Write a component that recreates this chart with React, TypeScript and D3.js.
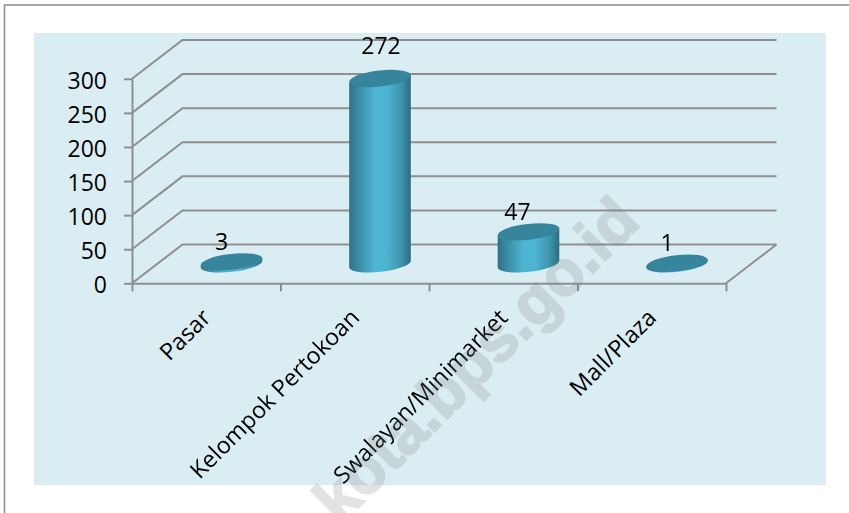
import React, { useEffect, useRef } from 'react';
import * as d3 from 'd3';

const categories = ['Pasar', 'Kelompok Pertokoan', 'Swalayan/Minimarket', 'Mall/Plaza'];
const values = [3, 272, 47, 1];
const yTicks = [0, 50, 100, 150, 200, 250, 300];
// hand-placed data labels in the original chart, offset from the top of each cylinder
const labelDx = [-10, 1, -11, -10];
const labelDy = [-20, -33, -20, -20];

export default function App() {
    const svgRef = useRef<SVGSVGElement>(null);

    useEffect(() => {
        const svg = d3.select(svgRef.current);
        svg.selectAll('*').remove();

        const left = 132, right = 726, bottom = 283.3, top = 78.8;
        const depthX = 50.5, depthY = -38.8;
        const gridColor = '#8f8f8f';
        const font = '"Open Sans", sans-serif';

        const x = d3.scaleBand().domain(categories).range([left, right]);
        const y = d3.scaleLinear().domain([0, 300]).range([bottom, top]);

        // ---- Page frame and panel
        svg.append('path')
            .attr('d', 'M4.5,513V5H849')
            .attr('fill', 'none')
            .attr('stroke', '#8c8c8c')
            .attr('stroke-width', 1.5);
        svg.append('rect')
            .attr('x', 34).attr('y', 33)
            .attr('width', 792).attr('height', 452)
            .attr('fill', '#daedf3');

        // ---- Cylinder gradient
        const grad = svg.append('defs').append('linearGradient')
            .attr('id', 'cyl').attr('x1', 0).attr('x2', 1).attr('y1', 0).attr('y2', 0);
        [[0, '#2f7288'], [0.15, '#3a8ba4'], [0.42, '#4db5d2'], [0.6, '#4db5d2'], [0.85, '#3e93ad'], [1, '#2d6c80']]
            .forEach(([o, c]) => grad.append('stop').attr('offset', o as number).attr('stop-color', c as string));

        // ---- Walls and gridlines
        const wall = d3.line<[number, number]>();
        yTicks.forEach(t => {
            const py = y(t);
            svg.append('path')
                .attr('d', wall([[left, py], [left + depthX, py + depthY], [left + depthX + (right - left), py + depthY]]))
                .attr('fill', 'none')
                .attr('stroke', gridColor)
                .attr('stroke-width', 2);
        });
        svg.append('path')
            .attr('d', wall([[right, bottom], [right + depthX, bottom + depthY]]))
            .attr('fill', 'none')
            .attr('stroke', gridColor)
            .attr('stroke-width', 2);

        // ---- Axes
        const yAxis = svg.append('g')
            .attr('transform', `translate(${left},0)`)
            .call(d3.axisLeft(y).tickValues(yTicks).tickSize(8).tickPadding(17).tickSizeOuter(0));
        yAxis.select('.domain').attr('stroke', gridColor).attr('stroke-width', 2);
        yAxis.selectAll('line').attr('stroke', gridColor).attr('stroke-width', 2);
        yAxis.selectAll('text')
            .attr('fill', '#000')
            .attr('dy', '0.4em')
            .style('font-family', font)
            .style('font-size', '23px');

        const xEdges = d3.scaleLinear().domain([0, categories.length]).range([left, right]);
        const xAxis = svg.append('g')
            .attr('transform', `translate(0,${bottom})`)
            .call(d3.axisBottom(xEdges).tickValues(d3.range(categories.length + 1)).tickFormat(() => '').tickSize(8).tickSizeOuter(0));
        xAxis.select('.domain').attr('stroke', gridColor).attr('stroke-width', 2);
        xAxis.selectAll('line').attr('stroke', gridColor).attr('stroke-width', 2);

        svg.selectAll('.cat-label')
            .data(categories)
            .enter()
            .append('text')
            .attr('class', 'cat-label')
            .attr('transform', d => `translate(${x(d)! + x.bandwidth() / 2 + 6},319) rotate(-45)`)
            .attr('text-anchor', 'end')
            .style('font-family', font)
            .style('font-size', '23.3px')
            .text(d => d);

        // ---- Cylinders
        const rx = 31, ry = 8, tilt = -6.5;
        const rad = (tilt * Math.PI) / 180;
        const ex = rx * Math.cos(rad), ey = rx * Math.sin(rad);
        const floorDrop = y(0) + depthY / 2;
        const cy = d3.scaleLinear().domain([0, 300]).range([floorDrop, floorDrop - (bottom - top)]);
        const cx = (d: string) => x(d)! + x.bandwidth() / 2 + depthX / 2;

        categories.forEach((c, i) => {
            const mx = cx(c), yBase = cy(0), yTop = cy(values[i]);
            svg.append('path')
                .attr('d', `M${mx - ex},${yTop - ey}L${mx - ex},${yBase - ey}`
                    + `A${rx},${ry} ${tilt} 0 0 ${mx + ex},${yBase + ey}`
                    + `L${mx + ex},${yTop + ey}Z`)
                .attr('fill', 'url(#cyl)');
            svg.append('ellipse')
                .attr('transform', `translate(${mx},${yTop}) rotate(${tilt})`)
                .attr('rx', rx)
                .attr('ry', ry)
                .attr('fill', '#37859d');
            svg.append('text')
                .attr('x', mx + labelDx[i])
                .attr('y', yTop + labelDy[i])
                .attr('dy', '0.35em')
                .attr('text-anchor', 'middle')
                .style('font-family', font)
                .style('font-size', '23px')
                .text(values[i]);
        });

        // ---- Watermark
        svg.append('text')
            .attr('transform', 'translate(340,526) rotate(-45)')
            .attr('fill', '#7f7f7f')
            .attr('stroke', '#7f7f7f')
            .attr('stroke-width', 2)
            .attr('opacity', 0.22)
            .style('font-family', '"Liberation Sans", sans-serif')
            .style('font-weight', 'bold')
            .style('font-size', '63px')
            .text('kota.bps.go.id');
    }, []);

    return <svg ref={svgRef} width={849} height={513} style={{ position: 'fixed', left: 0, top: 0 }} />;
}
